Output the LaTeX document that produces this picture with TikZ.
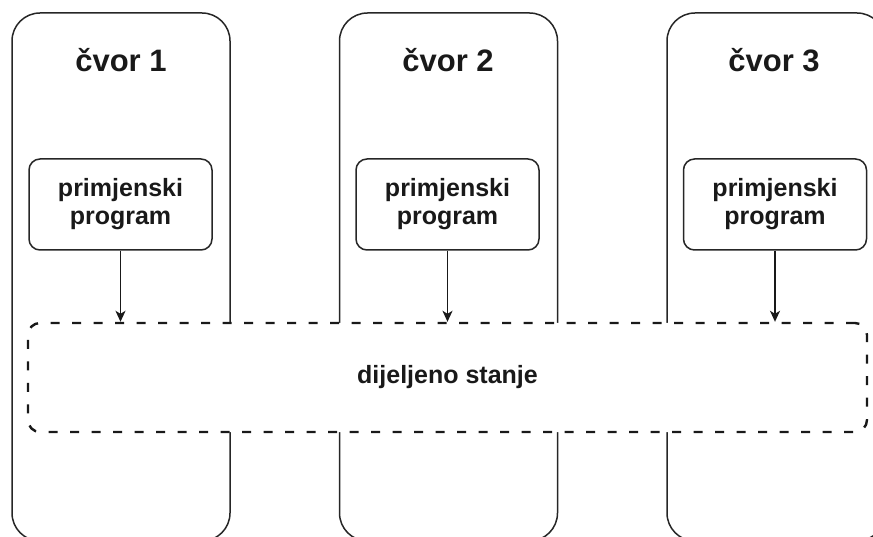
\documentclass[tikz,border=0pt]{standalone}
\usepackage{fontspec}
\setmainfont{Liberation Sans}
\usetikzlibrary{arrows.meta}
\begin{document}
\begin{tikzpicture}[x=1pt,y=-1pt,
  tallbox/.style={draw=black!85,line width=1.5pt,rounded corners=28pt,minimum width=218pt,minimum height=528pt,inner sep=0pt},
  titletxt/.style={font=\bfseries\fontsize{31}{36}\selectfont,text=black!90,inner sep=0pt},
  progbox/.style={draw=black!85,line width=1.5pt,rounded corners=11pt,minimum width=183pt,minimum height=91pt,inner sep=0pt,align=center,font=\bfseries\fontsize{25}{28}\selectfont,text=black!90},
  sharedbox/.style={draw=black!90,line width=2.4pt,dash pattern=on 9pt off 12.5pt,rounded corners=12pt,fill=white,minimum width=839pt,minimum height=109pt,inner sep=0pt,font=\bfseries\fontsize{25}{28}\selectfont,text=black!90},
  conn/.style={draw=black!90,line width=1.5pt,-{Stealth[length=11pt,width=10pt,inset=3pt]}}]
\useasboundingbox (0,0) rectangle (873,537);
\clip (0,0) rectangle (873,537);
\node[tallbox] (n1) at (121,277) {};
\node[tallbox] (n2) at (448.5,277) {};
\node[tallbox] (n3) at (776,277) {};
\node[titletxt] (t1) at (121,60) {čvor 1};
\node[titletxt] (t2) at (448,60) {čvor 2};
\node[titletxt] (t3) at (774,60) {čvor 3};
\node[progbox] (p1) at (120.5,204.5) {primjenski\\program};
\node[progbox] (p2) at (447.5,204.5) {primjenski\\program};
\node[progbox] (p3) at (775,204.5) {primjenski\\program};
\node[sharedbox] (ds) at (447.5,377.5) {dijeljeno stanje};
\draw[conn] (p1.south) -- (p1.south |- ds.north);
\draw[conn] (p2.south) -- (p2.south |- ds.north);
\draw[conn] (p3.south) -- (p3.south |- ds.north);
\end{tikzpicture}
\end{document}
